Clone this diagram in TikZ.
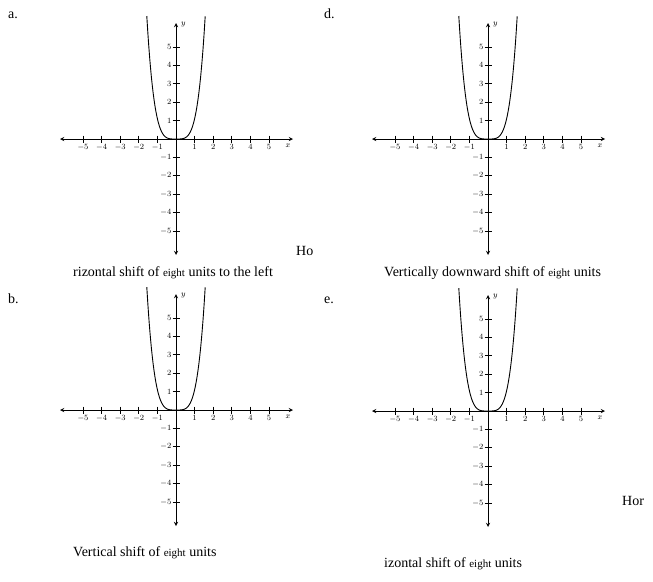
\documentclass[tikz,border=0pt]{standalone}
\usepackage{fontspec}
\setmainfont{Liberation Serif}
\newcommand\eigsz{\fontsize{11}{12}\selectfont}
\begin{document}
\begin{tikzpicture}[x=1pt,y=-1pt,
  ax/.style={line width=0.9pt,<->,>=stealth},
  tl/.style={font=\fontsize{8}{9}\selectfont,inner sep=1pt},
  lbl/.style={font=\fontsize{14}{16}\selectfont,anchor=base west,inner sep=0},
  graph/.pic={
    \draw[ax] (-116,0) -- (117,0);
    \draw[ax] (0,-116) -- (0,116);
    \foreach \i in {-5,...,5}{
      \ifnum\i=0\else
      \draw[line width=0.7pt] (\i*18.6,-3.5) -- (\i*18.6,3.5);
      \draw[line width=0.7pt] (-3.5,\i*18.4) -- (3.5,\i*18.4);
      \node[tl,below] at (\i*18.6,4) {$\i$};
      \pgfmathtruncatemacro\j{-\i}
      \node[tl,left] at (-3.5,\i*18.4) {$\j$};
      \fi}
    \node[tl,anchor=south west] at (4,-111) {$y$};
    \node[tl,below] at (112,4) {$x$};
    \draw[line width=0.9pt,domain=-1.57:1.57,samples=80,smooth]
      plot ({\x*18.6},{-18.4*1.1*\x*\x*\x*\x});
  }]
\useasboundingbox (0,0) rectangle (653,581);
\pic at (176,139) {graph};
\pic at (488,139) {graph};
\pic at (176,410) {graph};
\pic at (488,411) {graph};
\node[lbl] (la) at (8,18) {a.};
\node[lbl] (ld) at (324,18) {d.};
\node[lbl] (lb) at (8,303) {b.};
\node[lbl] (le) at (324,303) {e.};
\node[lbl] (t1) at (296,255) {Ho};
\node[lbl] (t2) at (73,276) {rizontal shift of {\eigsz eight} units to the left};
\node[lbl] (t3) at (384,276) {Vertically downward shift of {\eigsz eight} units};
\node[lbl] (t4) at (73,556) {Vertical shift of {\eigsz eight} units};
\node[lbl] (t5) at (622,505) {Hor};
\node[lbl] (t6) at (384,567) {izontal shift of {\eigsz eight} units};
\end{tikzpicture}
\end{document}
